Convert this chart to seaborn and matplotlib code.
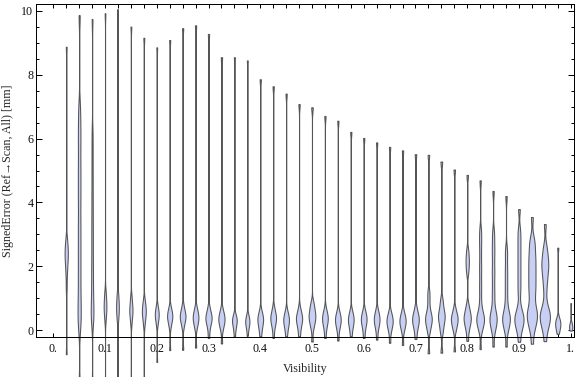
import numpy as np
import matplotlib
matplotlib.use("Agg")
import matplotlib.pyplot as plt
from matplotlib.ticker import MultipleLocator, NullLocator
import seaborn as sns

sns.set_style("ticks")
plt.rcParams["font.family"] = ["Liberation Serif", "DejaVu Serif"]

# visibility bins (one violin per bin)
visibility = [0.025, 0.05, 0.075, 0.1, 0.125, 0.15, 0.175, 0.2, 0.225, 0.25,
              0.275, 0.3, 0.325, 0.35, 0.375, 0.4, 0.425, 0.45, 0.475, 0.5,
              0.525, 0.55, 0.575, 0.6, 0.625, 0.65, 0.675, 0.7, 0.725, 0.75,
              0.775, 0.8, 0.825, 0.85, 0.875, 0.9, 0.925, 0.95, 0.975, 1.0]

# largest / smallest signed error per bin [mm]
err_max = [8.88, 9.87, 9.75, 9.93, 10.04, 9.51, 9.16, 8.86, 9.09, 9.46,
           9.55, 9.28, 8.55, 8.55, 8.45, 7.86, 7.64, 7.41, 7.08, 6.98,
           6.71, 6.56, 6.21, 6.02, 5.88, 5.74, 5.63, 5.51, 5.49, 5.28,
           5.03, 4.86, 4.69, 4.36, 4.20, 3.79, 3.54, 3.32, 2.58, 0.84]

err_min = [-0.76, -1.8, -1.8, -1.8, -1.8, -1.8, -1.8, -1.0, -0.63, -0.62,
           -0.55, -0.25, -0.42, -0.2, -0.18, -0.2, -0.25, -0.2, -0.2, -0.36,
           -0.25, -0.33, -0.2, -0.25, -0.3, -0.4, -0.47, -0.28, -0.73, -0.71,
           -0.67, -0.34, -0.6, -0.52, -0.52, -0.37, -0.43, -0.35, -0.12, -0.02]

# bulk of the signed errors per bin [mm]
err_body = [
    [1.3, 1.7, 1.95, 2.1, 2.25, 2.35, 2.45, 2.55, 2.7, 2.85],
    [0.1, 0.35, 0.6, 0.9, 1.2, 1.6, 1.9, 2.3, 2.6, 3.0, 3.3, 3.7, 4.1, 4.4,
     4.8, 5.1, 5.5, 5.9, 6.2, 6.6, 7.0],
    [0.2, 0.4, 0.55, 0.7, 0.95, 1.2, 1.5, 1.8, 2.1, 2.45, 2.8, 3.15, 3.5,
     3.9, 4.3, 4.75, 5.2, 5.7, 6.2],
    [0.3, 0.5, 0.6, 0.7, 0.8, 0.9, 1.05, 1.2],
    [0.25, 0.45, 0.55, 0.65, 0.75, 0.85, 1.0, 1.15],
    [0.2, 0.4, 0.5, 0.6, 0.65, 0.75, 0.9, 1.05],
    [0.15, 0.35, 0.45, 0.55, 0.6, 0.7, 0.8, 0.95],
    [0.15, 0.3, 0.4, 0.45, 0.5, 0.55, 0.65, 0.75],
    [0.1, 0.25, 0.35, 0.4, 0.45, 0.5, 0.6, 0.7],
    [0.1, 0.25, 0.35, 0.4, 0.45, 0.5, 0.6, 0.75],
    [0.05, 0.2, 0.3, 0.35, 0.4, 0.5, 0.55, 0.7],
    [0.05, 0.2, 0.3, 0.35, 0.4, 0.45, 0.55, 0.7],
    [0.0, 0.15, 0.25, 0.3, 0.35, 0.45, 0.5, 0.65],
    [0.0, 0.1, 0.2, 0.25, 0.3, 0.35, 0.4, 0.5],
    [0.02, 0.12, 0.18, 0.24, 0.28, 0.33, 0.4, 0.48],
    [0.0, 0.12, 0.22, 0.3, 0.34, 0.4, 0.48, 0.6],
    [0.05, 0.18, 0.28, 0.35, 0.4, 0.45, 0.55, 0.7],
    [0.0, 0.12, 0.22, 0.28, 0.33, 0.4, 0.47, 0.6],
    [0.02, 0.16, 0.26, 0.33, 0.38, 0.44, 0.52, 0.68],
    [0.05, 0.2, 0.3, 0.38, 0.45, 0.52, 0.6, 0.75, 0.85],
    [0.02, 0.16, 0.26, 0.32, 0.38, 0.45, 0.52, 0.66],
    [0.0, 0.12, 0.22, 0.29, 0.34, 0.4, 0.47, 0.6],
    [0.0, 0.13, 0.23, 0.28, 0.34, 0.41, 0.48, 0.6],
    [0.0, 0.14, 0.24, 0.3, 0.35, 0.42, 0.5, 0.62],
    [0.0, 0.14, 0.23, 0.3, 0.36, 0.42, 0.5, 0.64],
    [-0.05, 0.08, 0.18, 0.24, 0.3, 0.36, 0.44, 0.56],
    [-0.05, 0.1, 0.18, 0.25, 0.3, 0.37, 0.45, 0.58],
    [-0.02, 0.12, 0.22, 0.3, 0.36, 0.42, 0.52, 0.68],
    [-0.05, 0.1, 0.22, 0.3, 0.36, 0.42, 0.52, 0.68, 0.95, 1.2],
    [-0.08, 0.1, 0.25, 0.35, 0.42, 0.5, 0.6, 0.75, 0.95],
    [-0.02, 0.12, 0.22, 0.3, 0.36, 0.42, 0.5, 0.66],
    [-0.05, 0.1, 0.2, 0.28, 0.34, 0.4, 0.46, 0.54, 0.65, 0.8,
     1.8, 2.0, 2.15, 2.3, 2.5],
    [-0.05, 0.08, 0.18, 0.25, 0.3, 0.35, 0.4, 0.46, 0.55, 0.7,
     0.95, 1.25, 1.5, 1.8, 2.05, 2.35, 2.65, 2.9, 3.15],
    [-0.1, 0.05, 0.16, 0.24, 0.3, 0.36, 0.42, 0.5, 0.6, 0.75,
     1.0, 1.2, 1.45, 1.7, 1.9, 2.15, 2.4, 2.6, 2.85, 3.1],
    [-0.08, 0.06, 0.17, 0.25, 0.31, 0.37, 0.43, 0.5, 0.6, 0.76,
     1.0, 1.25, 1.5, 1.75, 2.0, 2.3, 2.55],
    [-0.1, 0.05, 0.15, 0.23, 0.3, 0.36, 0.42, 0.5, 0.6, 0.78,
     1.15, 1.4, 1.65, 1.9, 2.15, 2.4, 2.65, 2.9, 3.15],
    [-0.05, 0.1, 0.22, 0.32, 0.4, 0.47, 0.54, 0.62, 0.72, 0.88,
     1.05, 1.2, 1.3, 1.45, 1.55, 1.7, 1.8, 1.95, 2.05, 2.2, 2.3, 2.45,
     2.6, 2.75, 2.9],
    [-0.05, 0.1, 0.2, 0.3, 0.37, 0.44, 0.5, 0.58, 0.68, 0.85,
     1.2, 1.45, 1.65, 1.8, 1.95, 2.05, 2.15, 2.3, 2.45, 2.65],
    [0.0, 0.08, 0.14, 0.2, 0.24, 0.3, 0.38],
    [0.0, 0.05, 0.09, 0.12, 0.15, 0.2, 0.26],
]

x_tick_labels = ["0.", "0.1", "0.2", "0.3", "0.4", "0.5",
                 "0.6", "0.7", "0.8", "0.9", "1."]
y_ticks = [0, 2, 4, 6, 8, 10]

# drawing style: violin widths (px) and kde bandwidths (mm)
violin_px = [4, 4, 3.5, 3.5, 3.5, 4, 4.7, 4.7, 6, 6.5,
             6.5, 7, 7, 5.5, 5, 6.5, 6.5, 6.5, 7, 7.5,
             6.5, 6.5, 6.5, 6.5, 6.5, 7, 7, 7.5, 7.5, 7.5,
             7.5, 8, 8.5, 8, 8.5, 10, 11, 11, 6, 4]
kde_bw = [0.2, 0.35, 0.3, 0.18, 0.18, 0.16, 0.16, 0.15, 0.15, 0.15,
          0.15, 0.15, 0.15, 0.12, 0.12, 0.15, 0.15, 0.15, 0.15, 0.15,
          0.15, 0.15, 0.15, 0.15, 0.15, 0.15, 0.15, 0.15, 0.15, 0.15,
          0.15, 0.15, 0.18, 0.18, 0.18, 0.18, 0.2, 0.2, 0.12, 0.06]

fill_color = "#c8cff4"
edge_color = "#555555"

W, H = 576, 377
left, right, top, bottom = 36, 574, 4.3, 336.7
xmin, xmax = -0.0334, 1.0064
ymin, ymax = -0.21, 10.21

fig = plt.figure(figsize=(W / 96, H / 96), dpi=96)
ax = fig.add_axes([left / W, 1 - bottom / H, (right - left) / W, (bottom - top) / H])
px_per_x = (right - left) / (xmax - xmin)

for k, pos in enumerate(visibility):
    obs = np.array([err_min[k]] + err_body[k] + [err_max[k]])
    factor = kde_bw[k] / obs.std(ddof=1)
    sns.violinplot(x=np.full(obs.size, pos), y=obs, orient="x", native_scale=True,
                   width=(violin_px[k] - 0.8) / px_per_x, density_norm="width",
                   cut=0, inner=None, bw_method=factor, gridsize=800,
                   color=fill_color, linecolor=edge_color, linewidth=0.8,
                   saturation=1, ax=ax)

for coll in ax.collections:
    coll.set_clip_on(False)

ax.set_xlim(xmin, xmax)
ax.set_ylim(ymin, ymax)

tick_pos = [0.0] + visibility
tick_lab = [""] * len(tick_pos)
for i, lab in enumerate(x_tick_labels):
    tick_lab[4 * i] = lab
ax.set_xticks(tick_pos)
ax.set_xticklabels(tick_lab)
ax.xaxis.set_minor_locator(NullLocator())
ax.set_yticks(y_ticks)
ax.set_yticklabels([str(v) for v in y_ticks])
ax.yaxis.set_minor_locator(MultipleLocator(0.5))

ax.tick_params(which="both", direction="in", top=True, right=True,
               color="black", width=0.75, labelsize=9, labelcolor="#111111")
ax.tick_params(axis="x", length=3.2, pad=4.5)
ax.tick_params(axis="y", which="major", length=4.2, pad=2)
ax.tick_params(axis="y", which="minor", length=2.4)

for sp in ax.spines.values():
    sp.set_visible(True)
    sp.set_linewidth(0.75)
    sp.set_color("black")

ax.set_xlabel("Visibility", fontsize=9)
ax.set_ylabel("SignedError (Ref\u2192Scan, All) [mm]", fontsize=9)
ax.xaxis.set_label_coords(0.5, -0.08)
ax.yaxis.set_label_coords(-0.041, 0.5)

fig.savefig("out.png", dpi=96)
plt.close(fig)
